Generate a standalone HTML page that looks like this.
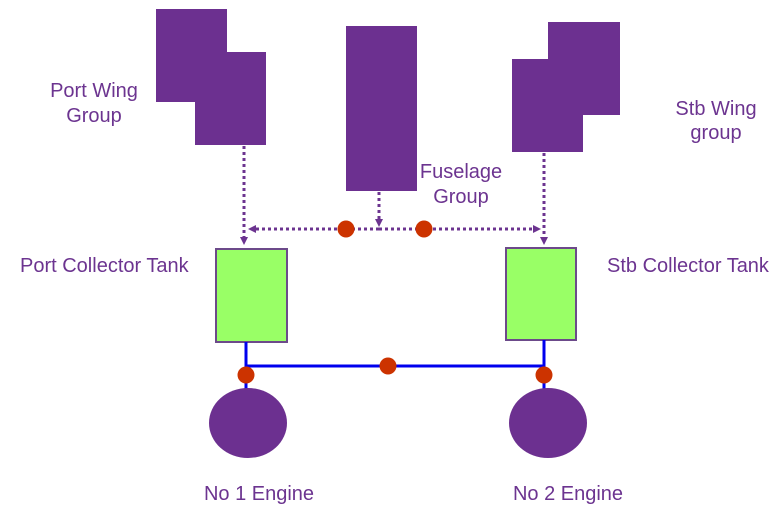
<!DOCTYPE html>
<html><head><style>
html,body{margin:0;padding:0;background:#fff;width:782px;height:511px;overflow:hidden}
</style></head><body>
<svg width="782" height="511" viewBox="0 0 782 511" xmlns="http://www.w3.org/2000/svg" font-family="Liberation Sans, sans-serif" font-size="20" fill="#6c3490">
<defs>
<marker id="a" markerWidth="8" markerHeight="8" refX="4" refY="4" orient="auto" markerUnits="userSpaceOnUse"><path d="M0,0 L8,4 L0,8 z" fill="#6c3490"/></marker>
</defs>
<rect x="156" y="9" width="71" height="93" fill="#6c3090"/>
<rect x="195" y="52" width="71" height="93" fill="#6c3090"/>
<rect x="346" y="26" width="71" height="165" fill="#6c3090"/>
<rect x="548" y="22" width="72" height="93" fill="#6c3090"/>
<rect x="512" y="59" width="71" height="93" fill="#6c3090"/>
<g stroke="#6c3490" stroke-width="3" stroke-dasharray="3,3" fill="none">
<line x1="244" y1="146" x2="244" y2="241" marker-end="url(#a)"/>
<line x1="544" y1="153" x2="544" y2="241" marker-end="url(#a)"/>
<line x1="379" y1="192" x2="379" y2="223" marker-end="url(#a)"/>
<line x1="379" y1="229" x2="252" y2="229" marker-end="url(#a)"/>
<line x1="379" y1="229" x2="537" y2="229" marker-end="url(#a)"/>
</g>
<circle cx="346" cy="229" r="8.5" fill="#cc3300"/>
<circle cx="424" cy="229" r="8.5" fill="#cc3300"/>
<rect x="216" y="249" width="71" height="93" fill="#99ff66" stroke="#6c4a8a" stroke-width="2"/>
<rect x="506" y="248" width="70" height="92" fill="#99ff66" stroke="#6c4a8a" stroke-width="2"/>
<g stroke="#0000ee" stroke-width="3" fill="none">
<polyline points="246,342 246,366 544,366 544,340"/>
<line x1="246" y1="366" x2="246" y2="392"/>
<line x1="544" y1="366" x2="544" y2="392"/>
</g>
<ellipse cx="248" cy="423" rx="39" ry="35" fill="#6c3090"/>
<ellipse cx="548" cy="423" rx="39" ry="35" fill="#6c3090"/>
<circle cx="246" cy="375" r="8.5" fill="#cc3300"/>
<circle cx="388" cy="366" r="8.5" fill="#cc3300"/>
<circle cx="544" cy="375" r="8.5" fill="#cc3300"/>
<text x="94" y="97" text-anchor="middle">Port Wing</text>
<text x="94" y="122" text-anchor="middle">Group</text>
<text x="461" y="178" text-anchor="middle">Fuselage</text>
<text x="461" y="203" text-anchor="middle">Group</text>
<text x="716" y="115" text-anchor="middle">Stb Wing</text>
<text x="716" y="139" text-anchor="middle">group</text>
<text x="20" y="272">Port Collector Tank</text>
<text x="607" y="272">Stb Collector Tank</text>
<text x="259" y="500" text-anchor="middle">No 1 Engine</text>
<text x="568" y="500" text-anchor="middle">No 2 Engine</text>
</svg>
</body></html>
